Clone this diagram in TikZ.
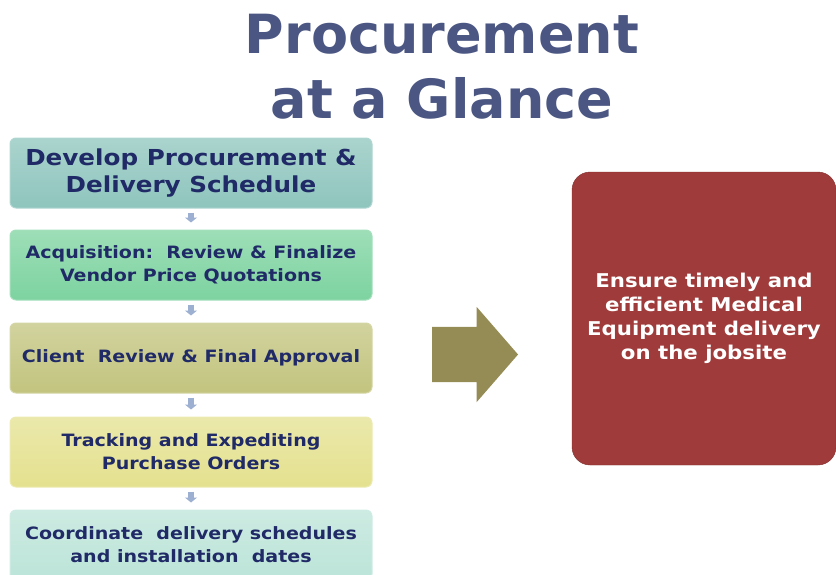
\documentclass[tikz,border=0pt]{standalone}
\usepackage{fontspec}
\setmainfont{DejaVu Sans}
\newfontfamily\widefont{DejaVu Sans}[FakeStretch=1.12]
\usepackage{xcolor}
\usetikzlibrary{positioning,shapes.arrows,arrows.meta}

\definecolor{titleblue}{HTML}{4B5782}
\definecolor{navytext}{HTML}{1F2A66}
\definecolor{tealbox}{HTML}{8EC5BD}
\definecolor{greenbox}{HTML}{7DD3A0}
\definecolor{olivebox}{HTML}{C2C47E}
\definecolor{yellowbox}{HTML}{E4E18F}
\definecolor{mintbox}{HTML}{BCE4D8}
\definecolor{smallarrow}{HTML}{9DB0D2}
\definecolor{khaki}{HTML}{958C55}
\definecolor{goalred}{HTML}{A03B3B}

\tikzset{
  stepbox/.style={draw=#1!70!white, line width=1pt, top color=#1!75!white, bottom color=#1,
    rounded corners=6pt, minimum width=362pt, minimum height=70pt, inner sep=0pt,
    align=center, text=navytext, font=\widefont\bfseries\fontsize{17}{23}\selectfont},
  flowarrow/.style={smallarrow, line width=6pt, -{Triangle[width=12pt,length=5pt]},
    shorten <=4pt, shorten >=7pt}
}

\begin{document}
\begin{tikzpicture}[x=1pt, y=-1pt]
  \useasboundingbox (0,0) rectangle (836,574);

  % Title
  \node[text=titleblue, align=center, font=\bfseries\fontsize{54}{65}\selectfont] (title) at (442,67) {Procurement\\at a Glance};

  % Steps
  \node[stepbox=tealbox, font=\widefont\bfseries\fontsize{22}{27}\selectfont] (b1) at (191,173) {Develop Procurement \&\\Delivery Schedule};
  \node[stepbox=greenbox] (b2) at (191,265) {Acquisition:~~Review \& Finalize\\Vendor Price Quotations};
  \node[stepbox=olivebox] (b3) at (191,358) {Client~~Review \& Final Approval};
  \node[stepbox=yellowbox] (b4) at (191,452) {Tracking and Expediting\\Purchase Orders};
  \node[stepbox=mintbox] (b5) at (191,545) {Coordinate~~delivery schedules\\and installation~~dates};

  \foreach \a/\b in {b1/b2,b2/b3,b3/b4,b4/b5} {
    \draw[flowarrow] (\a.south) -- (\b.north);
  }

  % Big arrow
  \node[single arrow, fill=khaki, draw=none, minimum height=86pt, inner xsep=0pt, inner ysep=27.5pt,
    single arrow head extend=20pt, single arrow tip angle=98] (go) at (463,354.5) {};

  % Result
  \node[fill=goalred, draw=goalred!80!black, rounded corners=18pt, minimum width=264pt, minimum height=293pt,
    align=center, text=white, font=\widefont\bfseries\fontsize{19}{24}\selectfont] (goal) at (704,318.5)
    {Ensure timely and\\efficient Medical\\Equipment delivery\\on the jobsite};
\end{tikzpicture}
\end{document}
